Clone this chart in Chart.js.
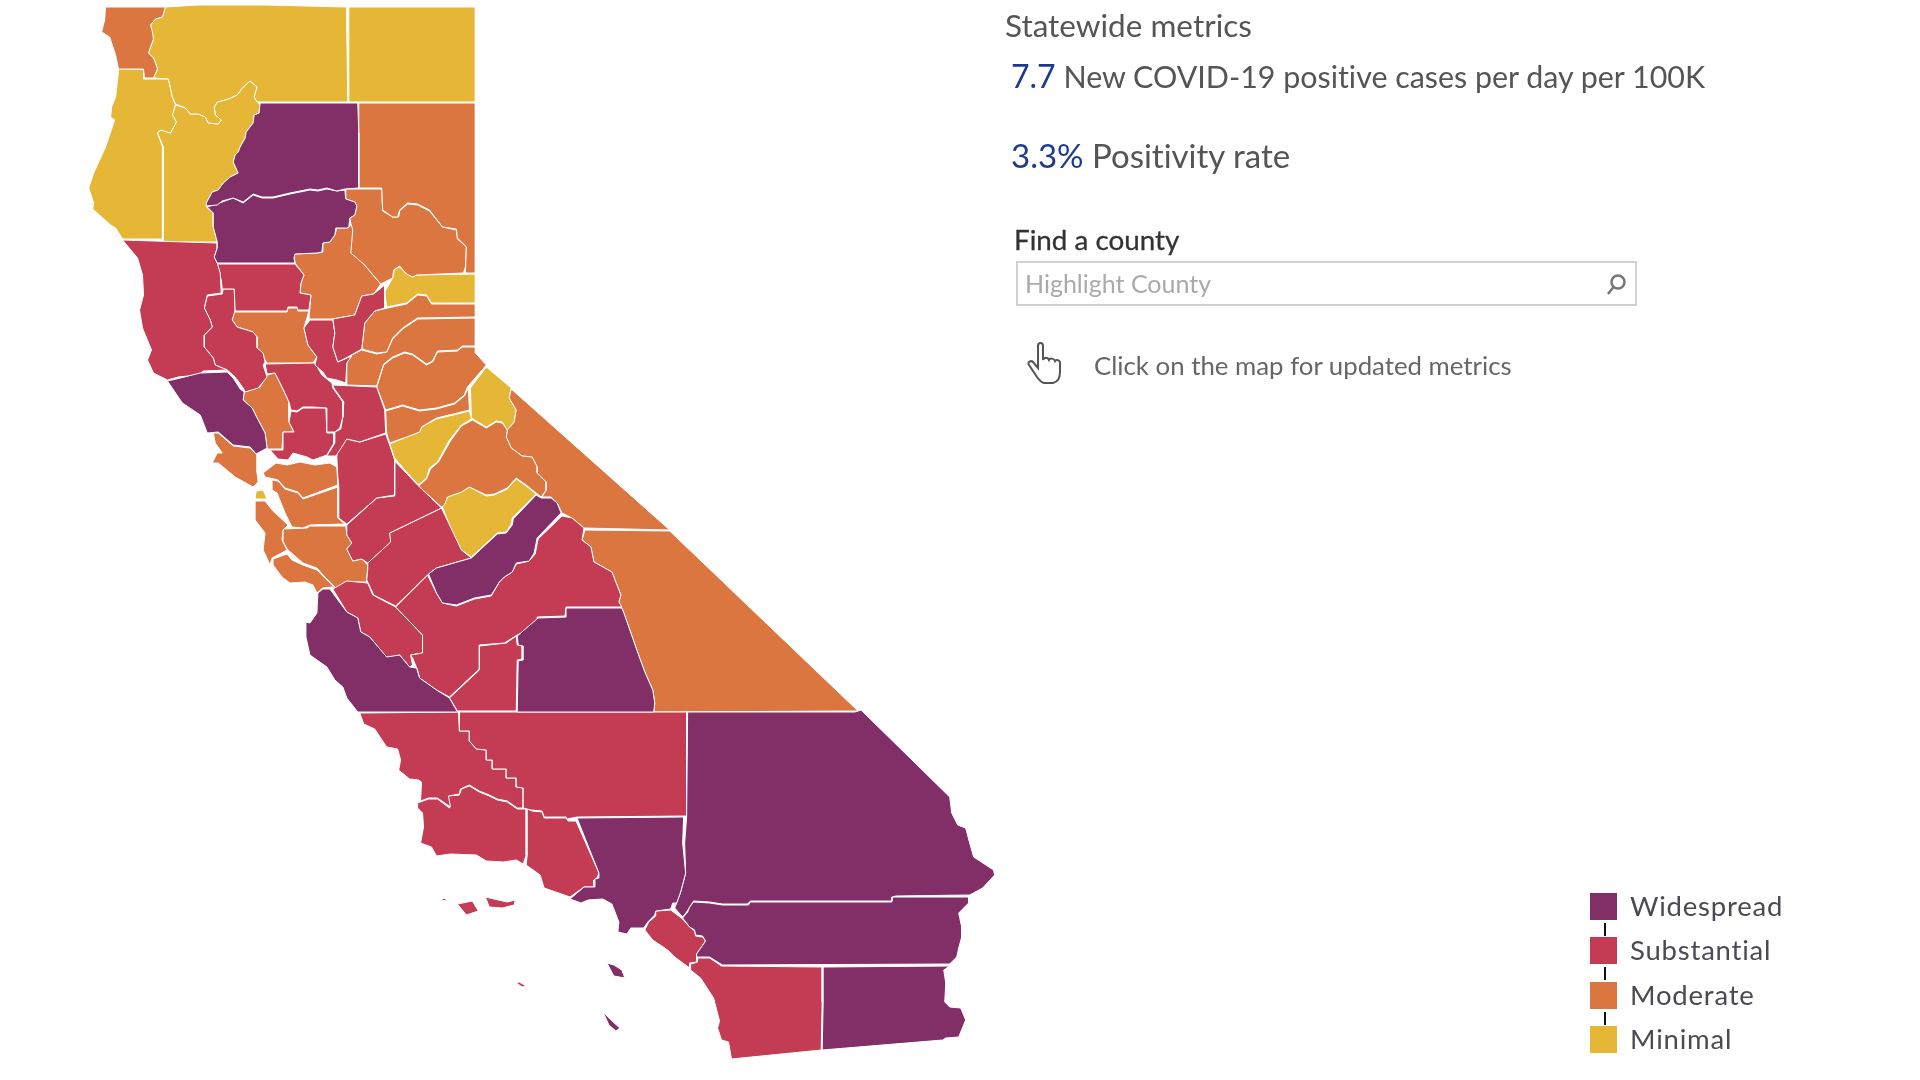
<!DOCTYPE html>
<html>
<head>
<meta charset="utf-8">
<title>California county tiers</title>
<script src="https://cdn.jsdelivr.net/npm/chart.js@4/dist/chart.umd.min.js"></script>
<style>
    body { margin: 0; background: #fff; font-family: Lato, sans-serif; color: #555; font-variant-ligatures: none; }
    #page { position: relative; width: 1920px; height: 1080px; overflow: hidden; }
    #map { position: absolute; left: 0; top: 0; }
    .txt { position: absolute; white-space: nowrap; line-height: 1; }
    .num { color: #1c3a8e; }
    #search { position: absolute; left: 1016px; top: 261px; width: 617px; height: 41px; border: 2px solid #d2d2d2; }
    .swatch { position: absolute; left: 1590px; width: 27px; height: 27px; }
    .tick { position: absolute; left: 1604px; width: 2px; height: 13px; background: #111; }
    svg { position: absolute; }
</style>
</head>
<body>
<div id="page">
    <canvas id="map" width="1920" height="1080"></canvas>

    <div class="txt" style="left:1005px;top:10px;font-size:31.5px;color:#555">Statewide metrics</div>
    <div class="txt" style="left:1011px;top:60px;font-size:30.4px;color:#555"><span class="num" style="font-size:32px">7.7</span> New COVID-19 positive cases per day per 100K</div>
    <div class="txt" style="left:1011px;top:139px;font-size:33px;color:#555"><span class="num">3.3%</span> Positivity rate</div>
    <div class="txt" style="left:1014px;top:226px;font-size:27.8px;color:#333;-webkit-text-stroke:0.3px #333">Find a county</div>
    <div id="search"></div>
    <div class="txt" style="left:1025px;top:271px;font-size:25px;color:#aaa">Highlight County</div>
    <svg style="left:1605px;top:273px" width="22" height="24" viewBox="0 0 22 24" fill="none" stroke="#777" stroke-width="2.5">
        <circle cx="13" cy="9" r="6.5"></circle>
        <line x1="8.5" y1="14" x2="3" y2="21"></line>
    </svg>
    <svg style="left:1026px;top:342px" width="38" height="42" viewBox="0 0 38 42" fill="#fff" stroke="#555" stroke-width="2">
        <path d="M12 4 c0-4 5-4 5 0 v14 c1-3 5-3 6 0 c1-2 5-2 6 1 c1-2 5-1 5 2 v9 c0 6-3 10-7 11 h-9 c-4-1-6-4-9-9 l-6-9 c-2-3 2-5 4-3 l5 6 z"></path>
    </svg>
    <div class="txt" style="left:1094px;top:353px;font-size:25.8px;color:#666">Click on the map for updated metrics</div>

    <div id="legend"></div>
</div>

<script>
    const tierNames = ["Widespread", "Substantial", "Moderate", "Minimal"];
    const tierColors = ["#822e67", "#c43c53", "#db7641", "#e6b736"];

    // county outlines, [map x, map y]
    const delNorte = [[105,7],[165,7],[162,17],[155,19],[150,25],[152,32],[153,39],[150,47],[148,53],[153,58],[155,63],[157,69],[153,78],[144,78],[143,69],[118,69],[115,55],[109,37],[101,32],[104,20]];
    const siskiyou = [[165,7],[198,5],[267,5],[347,7],[347,33],[348,102],[257,102],[254,97],[257,87],[250,81],[243,87],[237,95],[228,99],[217,102],[214,107],[215,115],[221,120],[218,124],[208,123],[205,117],[198,114],[190,114],[185,108],[175,104],[172,97],[168,79],[153,78],[157,69],[153,58],[148,53],[153,39],[150,25],[155,19],[162,17]];
    const modoc = [[349,7],[476,7],[476,102],[349,102]];
    const humboldt = [[118,69],[143,69],[143,79],[168,79],[172,97],[175,105],[172,115],[176,122],[170,133],[160,130],[157,133],[162,147],[162,239],[122,239],[115,228],[110,225],[92,209],[93,203],[88,188],[93,173],[105,147],[114,120],[110,117],[111,107],[115,97],[117,80]];
    const trinity = [[175,105],[185,108],[190,114],[198,114],[205,117],[208,123],[218,124],[221,120],[215,115],[214,107],[217,102],[228,99],[237,95],[243,87],[250,81],[257,87],[254,97],[260,105],[259,113],[254,115],[253,123],[246,132],[245,138],[240,147],[238,152],[235,155],[233,162],[238,173],[230,177],[223,183],[218,190],[212,192],[206,203],[207,208],[213,213],[213,227],[217,242],[163,242],[163,147],[157,133],[160,130],[170,133],[176,122],[172,115]];
    const shasta = [[260,103],[358,103],[359,133],[359,188],[345,189],[337,191],[327,188],[318,190],[310,189],[300,191],[290,193],[273,197],[262,197],[253,194],[243,202],[233,198],[222,201],[217,205],[206,206],[206,203],[212,192],[218,190],[223,183],[230,177],[238,173],[233,162],[235,155],[238,152],[240,147],[245,138],[246,132],[253,123],[254,115],[259,113]];
    const tehama = [[207,207],[222,202],[233,198],[243,203],[253,195],[262,198],[273,198],[290,194],[300,192],[310,190],[318,191],[327,189],[337,191],[345,190],[346,199],[355,202],[357,206],[355,215],[350,218],[349,227],[347,228],[336,228],[335,235],[330,242],[323,243],[322,252],[317,253],[295,254],[294,258],[295,263],[217,263],[214,257],[217,248],[217,242],[213,227],[213,213]];
    const lassen = [[359,103],[476,103],[476,273],[466,273],[467,247],[458,238],[457,229],[443,227],[430,210],[418,204],[408,203],[400,210],[398,217],[393,217],[383,210],[382,188],[359,188],[359,133]];
    const plumas = [[346,189],[382,189],[383,211],[393,217],[399,217],[400,211],[408,204],[418,205],[430,211],[443,227],[457,230],[458,239],[467,247],[466,267],[464,273],[417,275],[413,277],[407,274],[400,266],[394,270],[393,278],[381,284],[375,277],[365,265],[351,253],[353,230],[351,223],[350,218],[355,215],[357,206],[355,202],[346,199]];
    const butte = [[352,224],[355,230],[352,253],[365,265],[375,277],[381,284],[374,294],[362,296],[355,315],[333,319],[309,319],[311,295],[300,293],[301,283],[304,275],[295,263],[294,254],[317,253],[323,252],[323,243],[330,242],[335,235],[337,228],[348,228]];
    const sierra = [[400,267],[407,274],[413,277],[417,275],[476,274],[476,303],[432,303],[427,295],[418,294],[407,303],[387,307],[385,292],[393,278],[395,269]];
    const yuba = [[385,285],[385,308],[375,311],[365,323],[362,349],[348,357],[338,362],[333,347],[335,333],[333,319],[355,315],[362,296],[374,294]];
    const nevada = [[476,304],[476,317],[418,318],[403,328],[393,338],[387,352],[377,353],[362,349],[365,323],[375,311],[388,308],[407,304],[418,295],[427,296],[432,304]];
    const placer = [[476,318],[476,346],[463,346],[458,350],[438,351],[433,361],[427,364],[413,354],[405,352],[393,357],[384,364],[377,386],[347,385],[347,363],[352,355],[362,350],[377,354],[387,352],[393,339],[403,329],[418,319]];
    const glenn = [[217,264],[295,264],[304,275],[301,283],[300,293],[311,295],[309,310],[298,310],[297,307],[288,307],[287,311],[235,311],[234,289],[222,289],[221,280],[219,273]];
    const mendocino = [[122,240],[217,243],[217,248],[214,257],[217,263],[220,273],[221,293],[207,295],[204,308],[210,320],[212,327],[204,335],[204,347],[213,358],[215,365],[227,370],[203,371],[198,375],[178,377],[167,380],[153,373],[147,360],[151,350],[142,328],[139,310],[143,295],[142,275],[137,258]];
    const lake = [[207,296],[222,294],[223,289],[234,289],[235,310],[232,320],[237,327],[253,332],[257,337],[257,348],[263,353],[265,362],[263,365],[267,377],[258,388],[245,392],[243,388],[235,377],[227,370],[215,365],[213,358],[204,347],[204,335],[212,327],[210,320],[204,308]];
    const colusa = [[234,312],[287,312],[288,308],[297,308],[298,311],[309,311],[304,328],[308,345],[317,357],[313,363],[267,363],[264,358],[257,348],[257,337],[253,332],[237,327],[232,320]];
    const sutter = [[310,320],[333,320],[335,333],[333,347],[338,362],[352,356],[347,363],[346,383],[337,380],[327,378],[323,372],[315,365],[317,357],[308,345],[304,328]];
    const sonoma = [[167,381],[180,378],[200,373],[227,372],[233,378],[240,389],[244,392],[243,400],[252,408],[257,418],[265,433],[267,448],[256,454],[250,447],[233,445],[218,432],[207,433],[200,415],[182,403]];
    const napa = [[275,373],[282,387],[289,402],[289,422],[294,432],[283,432],[282,449],[267,449],[265,433],[257,418],[252,408],[243,400],[244,392],[260,387],[267,375]];
    const yolo = [[265,364],[315,363],[322,375],[332,383],[333,388],[343,402],[343,417],[340,428],[335,432],[327,432],[327,408],[313,407],[303,407],[297,411],[291,410],[289,402],[282,387],[275,373],[267,374]];
    const solano = [[291,411],[297,412],[303,408],[326,408],[327,433],[334,433],[334,443],[327,455],[313,460],[307,457],[293,453],[288,460],[278,459],[270,450],[283,450],[283,432],[294,432],[289,422]];
    const sacramento = [[333,385],[377,387],[385,410],[386,433],[360,442],[347,439],[342,447],[336,456],[327,456],[335,443],[335,432],[341,429],[343,417],[344,402],[334,388]];
    const elDorado = [[377,387],[384,365],[393,358],[405,353],[413,355],[427,365],[433,362],[438,352],[458,351],[463,347],[476,347],[476,353],[487,365],[468,387],[465,395],[455,403],[437,408],[420,410],[403,405],[386,410]];
    const amador = [[386,411],[403,406],[420,411],[437,409],[455,404],[465,396],[469,388],[470,410],[458,413],[437,418],[422,427],[420,432],[407,437],[390,443],[387,433]];
    const alpine = [[487,367],[512,388],[510,398],[517,410],[515,422],[508,430],[503,422],[497,421],[487,427],[472,418],[471,388]];
    const calaveras = [[390,444],[407,437],[420,432],[422,427],[437,419],[458,414],[470,411],[472,419],[462,425],[450,440],[438,462],[430,468],[427,478],[419,485],[407,472],[395,458]];
    const tuolumne = [[473,420],[487,428],[497,422],[503,423],[508,430],[507,437],[512,448],[523,456],[533,457],[538,467],[538,473],[547,482],[547,490],[542,497],[537,493],[527,485],[517,478],[508,488],[495,494],[487,495],[470,487],[462,492],[448,497],[445,505],[442,507],[419,486],[427,479],[431,469],[439,462],[451,441],[462,426]];
    const mono = [[512,389],[671,530],[585,528],[573,518],[563,513],[558,503],[552,497],[543,497],[547,490],[547,482],[538,473],[538,467],[533,457],[523,456],[512,448],[507,437],[508,430],[515,422],[517,410],[510,398]];
    const inyo = [[586,530],[671,531],[860,711],[655,712],[656,703],[654,690],[646,672],[638,650],[631,630],[625,613],[620,602],[622,595],[613,572],[595,562],[592,547],[583,540]];
    const mariposa = [[443,507],[448,497],[462,492],[470,487],[487,496],[495,495],[508,489],[517,479],[527,486],[537,494],[513,518],[512,524],[507,532],[498,533],[472,557],[462,550],[453,533]];
    const madera = [[537,495],[542,498],[552,498],[558,503],[562,513],[538,538],[535,553],[530,561],[517,563],[513,572],[505,577],[500,582],[492,595],[475,598],[457,605],[443,603],[437,593],[429,574],[437,568],[472,558],[498,534],[507,533],[513,525],[514,519]];
    const fresno = [[563,516],[573,518],[585,528],[583,540],[592,547],[595,562],[613,572],[622,595],[620,602],[623,607],[567,607],[566,616],[538,617],[537,626],[518,635],[505,643],[480,645],[480,669],[450,697],[437,690],[420,678],[418,670],[413,658],[411,655],[423,653],[423,635],[396,607],[428,575],[437,593],[443,603],[457,606],[475,599],[492,596],[500,582],[505,577],[513,572],[517,564],[530,561],[536,554],[539,539]];
    const kings = [[480,646],[498,644],[507,643],[517,636],[518,645],[523,646],[523,659],[518,660],[517,711],[458,711],[450,698],[480,670]];
    const tulare = [[518,636],[539,618],[567,617],[567,608],[623,608],[625,613],[631,630],[638,650],[646,672],[654,690],[656,703],[655,712],[518,712],[519,661],[524,660],[524,646],[519,645]];
    const monterey = [[318,593],[323,589],[330,589],[347,612],[358,618],[361,632],[370,637],[387,657],[400,655],[410,667],[417,668],[420,678],[437,690],[450,698],[458,712],[358,712],[347,698],[343,687],[335,680],[327,667],[310,655],[306,637],[306,622],[310,623],[317,613]];
    const sanBenito = [[333,589],[347,581],[368,583],[373,595],[396,607],[423,635],[423,653],[411,655],[413,665],[410,667],[400,655],[387,658],[370,637],[361,632],[358,618],[347,612]];
    const merced = [[368,563],[390,542],[390,533],[442,508],[462,550],[472,558],[437,568],[428,575],[396,606],[374,595],[367,580],[368,570]];
    const stanislaus = [[347,525],[377,498],[395,496],[395,461],[418,485],[442,508],[390,533],[391,542],[368,563],[362,559],[353,561],[347,549],[352,543],[347,535]];
    const sanJoaquin = [[338,440],[347,439],[360,442],[386,434],[390,445],[395,460],[395,495],[377,498],[347,524],[339,518],[339,487],[338,477],[337,457]];
    const contraCosta = [[263,473],[276,463],[287,465],[300,462],[315,465],[330,463],[337,467],[338,485],[303,498],[298,492],[285,488],[278,480],[265,477]];
    const alameda = [[272,480],[278,481],[285,489],[298,493],[303,499],[338,487],[338,518],[345,524],[310,525],[303,528],[292,527],[285,513],[277,493],[272,490]];
    const marin = [[213,433],[218,433],[233,446],[250,448],[257,455],[257,473],[258,482],[253,487],[235,477],[218,463],[212,463],[217,453],[222,453],[215,443]];
    const sanFrancisco = [[256,491],[263,490],[267,499],[255,499]];
    const sanMateo = [[255,501],[265,501],[272,510],[288,525],[283,530],[282,540],[287,550],[272,558],[270,565],[263,550],[265,533],[255,520]];
    const santaClara = [[283,529],[307,528],[310,526],[346,526],[347,535],[352,543],[347,549],[353,561],[362,559],[368,565],[367,582],[347,582],[337,589],[325,577],[317,568],[303,563],[288,550],[283,542]];
    const santaCruz = [[273,559],[287,554],[292,560],[303,565],[317,570],[325,578],[336,589],[332,587],[323,588],[317,593],[313,585],[305,582],[290,583],[282,577],[273,565]];
    const kern = [[460,712],[688,712],[688,816],[578,817],[568,819],[567,817],[545,817],[543,811],[532,810],[524,808],[524,788],[517,787],[517,778],[507,778],[507,769],[493,769],[493,760],[487,760],[487,750],[477,749],[470,741],[470,731],[460,731]];
    const sanLuisObispo = [[360,713],[459,712],[460,731],[470,731],[470,741],[477,749],[487,750],[487,760],[493,760],[493,769],[507,769],[507,778],[517,778],[517,787],[524,788],[524,808],[518,808],[508,801],[498,799],[490,795],[480,791],[470,785],[461,789],[460,794],[449,796],[451,807],[438,798],[429,798],[421,801],[422,782],[419,780],[410,779],[399,770],[401,760],[398,749],[387,747],[375,729],[364,724]];
    const santaBarbara = [[418,803],[429,799],[438,799],[450,808],[448,796],[460,795],[462,789],[470,786],[480,792],[490,796],[498,800],[508,802],[518,809],[527,809],[527,855],[524,864],[517,860],[504,862],[487,861],[477,855],[451,854],[437,856],[432,847],[421,843],[424,827],[423,813],[418,808]];
    const ventura = [[528,809],[533,811],[543,812],[545,818],[567,818],[569,821],[577,821],[600,873],[598,878],[595,880],[595,887],[585,887],[571,897],[545,888],[541,875],[527,865],[528,855]];
    const losAngeles = [[578,818],[685,817],[684,843],[687,873],[682,892],[678,903],[674,903],[672,909],[657,911],[656,915],[649,922],[645,928],[632,928],[628,934],[619,932],[620,922],[613,904],[604,899],[589,900],[582,903],[571,899],[585,887],[596,887],[596,879],[600,878],[600,873]];
    const sanBernardino = [[689,712],[857,712],[863,710],[952,797],[954,813],[960,825],[968,828],[972,843],[976,857],[996,870],[997,875],[985,888],[972,895],[898,896],[894,897],[894,901],[752,901],[749,904],[724,904],[711,902],[695,901],[691,907],[688,912],[684,917],[676,908],[678,903],[682,892],[687,873],[686,843],[688,817]];
    const riverside = [[695,902],[711,903],[724,905],[750,905],[752,902],[894,902],[894,897],[971,897],[971,903],[961,913],[964,927],[964,937],[961,948],[959,957],[952,964],[724,965],[711,957],[698,957],[698,954],[707,941],[704,936],[697,935],[696,930],[691,927],[684,918],[689,912],[691,907]];
    const orange = [[657,911],[672,910],[684,919],[691,927],[696,931],[697,936],[704,937],[707,941],[698,954],[698,962],[691,963],[691,968],[676,957],[669,950],[654,940],[646,930],[650,922],[657,916]];
    const sanDiego = [[692,964],[699,962],[699,958],[711,958],[723,966],[824,967],[824,1002],[823,1050],[733,1059],[730,1042],[723,1040],[719,1028],[721,1021],[715,998],[702,978],[692,970]];
    const imperial = [[825,967],[952,966],[946,970],[948,983],[947,1002],[952,1007],[963,1008],[968,1020],[961,1037],[948,1038],[945,1040],[824,1050],[825,1002]];
    const islandA = [[441,900],[445,898],[448,901]];
    const islandB = [[458,904],[473,901],[479,911],[467,915]];
    const islandC = [[486,897],[508,902],[516,900],[515,905],[503,908],[490,907]];
    const islandD = [[517,983],[520,982],[527,986],[523,987]];
    const catalina = [[608,963],[615,965],[623,970],[626,978],[615,976]];
    const clemente = [[604,1012],[612,1020],[621,1028],[617,1031],[610,1025]];

    const widespread = [shasta, tehama, sonoma, madera, tulare, monterey, losAngeles, sanBernardino, riverside, imperial, catalina, clemente];
    const substantial = [mendocino, glenn, lake, yuba, sutter, yolo, solano, sacramento, sanJoaquin, stanislaus, merced, fresno, kings, sanBenito, kern, sanLuisObispo, santaBarbara, ventura, orange, sanDiego, islandA, islandB, islandC, islandD];
    const moderate = [delNorte, lassen, plumas, butte, nevada, placer, colusa, napa, elDorado, amador, tuolumne, mono, inyo, contraCosta, alameda, marin, sanMateo, santaClara, santaCruz];
    const minimal = [siskiyou, modoc, humboldt, trinity, sierra, alpine, calaveras, mariposa, sanFrancisco];
    const tiers = [widespread, substantial, moderate, minimal];

    const datasets = [];
    tiers.forEach((counties, i) => {
        counties.forEach(outline => {
            datasets.push({
                data: outline.concat([outline[0]]).map(p => ({ x: p[0], y: p[1] })),
                showLine: true,
                fill: "shape",
                tension: 0,
                backgroundColor: tierColors[i],
                borderColor: "#fff",
                borderWidth: 1,
                pointRadius: 0,
                pointHoverRadius: 0,
            });
        });
    });

    new Chart(document.getElementById("map"), {
        type: "scatter",
        data: { datasets },
        options: {
            responsive: false,
            animation: false,
            events: [],
            layout: { padding: 0 },
            plugins: { legend: { display: false }, tooltip: { enabled: false } },
            scales: {
                x: { type: "linear", min: -1, max: 1925.6, display: false },
                y: { type: "linear", min: 0, max: 1080, reverse: true, display: false },
            },
        },
    });

    const legend = document.getElementById("legend");
    tierNames.forEach((name, i) => {
        const top = 893 + i * 44.4;
        legend.innerHTML += `<div class="swatch" style="top:${top}px;background:${tierColors[i]}"></div>`;
        legend.innerHTML += `<div class="txt" style="left:1630px;top:${top - 1}px;font-size:27.5px;letter-spacing:0.8px;color:#4a4a55">${name}</div>`;
        if (i < tierNames.length - 1) {
            legend.innerHTML += `<div class="tick" style="top:${top + 30}px"></div>`;
        }
    });
</script>
</body>
</html>
